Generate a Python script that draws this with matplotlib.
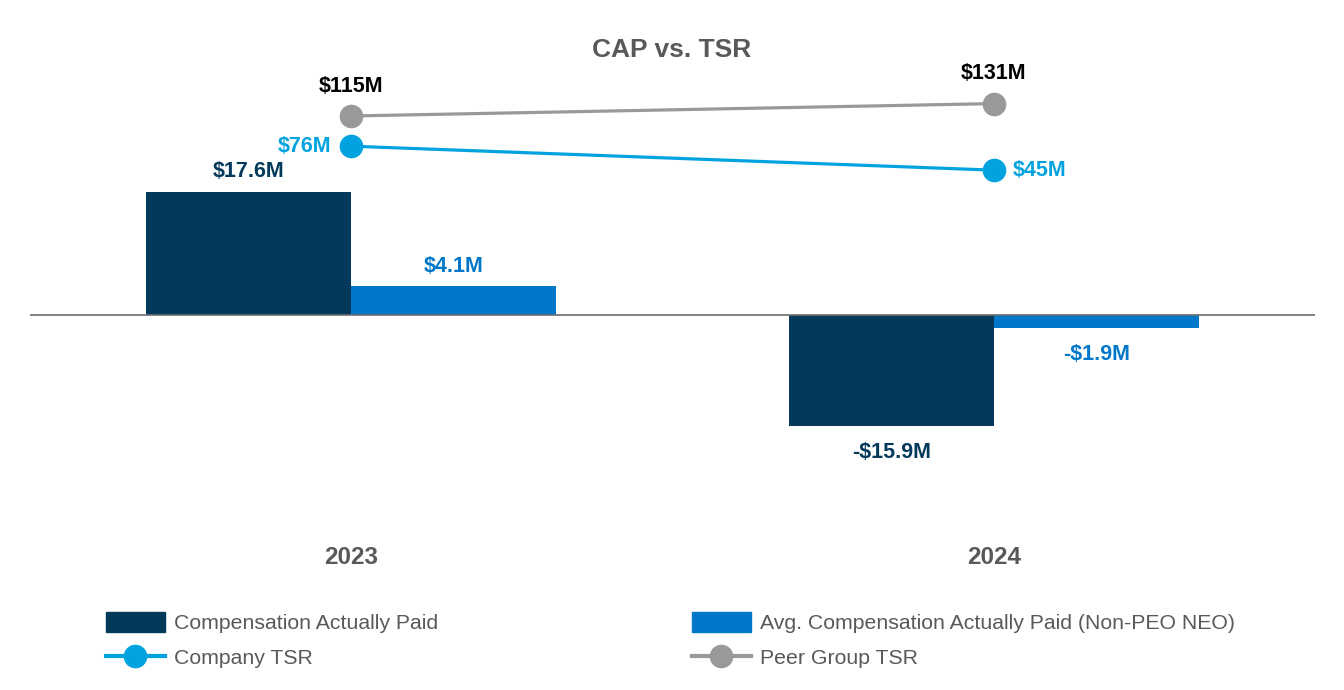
import numpy as np
import matplotlib.pyplot as plt
from matplotlib.patches import Patch
from matplotlib.lines import Line2D

plt.rcParams['font.family'] = ['Liberation Sans', 'DejaVu Sans']

years = ['2023', '2024']
cap = [17.6, -15.9]            # compensation actually paid, $M
avg_cap = [4.1, -1.9]          # avg non-PEO NEO CAP, $M
company_tsr = [76, 45]
peer_tsr = [115, 131]

navy = '#033A5C'
blue = '#0077C8'
cyan = '#00A3E0'
grey = '#999999'
txt = '#595959'

fig = plt.figure(figsize=(13.44, 6.9), dpi=100)
W, H = 1344, 690
top_px, bot_px = 40, 520
ax = fig.add_axes([30 / W, 1 - bot_px / H, (1315 - 30) / W, (bot_px - top_px) / H])
ax2 = ax.twinx()

x = np.arange(len(years))
bw = 0.319
ax.bar(x, cap, width=-bw, align='edge', color=navy, zorder=2)
ax.bar(x, avg_cap, width=bw, align='edge', color=blue, zorder=2)
ax.axhline(0, color='#6d6d6d', lw=1.2, zorder=3)

# primary: zero at y=315 px, 7 px per $M
ax.set_ylim(-(bot_px - 315) / 7, (315 - top_px) / 7)
ax.set_xlim(-0.5, 1.5)
# secondary: zero at y=205 px, 0.774 px per unit
ax2.set_ylim(-(bot_px - 205) / 0.774, (205 - top_px) / 0.774)

ax2.plot(x, peer_tsr, color=grey, lw=2.3, marker='o', ms=16, zorder=4)
ax2.plot(x, company_tsr, color=cyan, lw=2.3, marker='o', ms=16, zorder=4)

for a in (ax, ax2):
    for s in a.spines.values():
        s.set_visible(False)
    a.set_yticks([])
    a.tick_params(length=0)
ax.set_xticks([])

fs = 15.5
for i, v in enumerate(cap):
    off = 7 if v > 0 else -11
    ax.annotate(f"{'-' if v < 0 else ''}${abs(v):.1f}M", (x[i] - bw / 2, v),
                xytext=(0, off), textcoords='offset points', ha='center',
                va='bottom' if v > 0 else 'top', color=navy, fontsize=fs, fontweight='bold')
for i, v in enumerate(avg_cap):
    off = 7 if v > 0 else -11
    ax.annotate(f"{'-' if v < 0 else ''}${abs(v):.1f}M", (x[i] + bw / 2, v),
                xytext=(0, off), textcoords='offset points', ha='center',
                va='bottom' if v > 0 else 'top', color=blue, fontsize=fs, fontweight='bold')

for i, v in enumerate(peer_tsr):
    ax2.annotate(f"${v}M", (x[i], v), xytext=(0, 14), textcoords='offset points',
                 ha='center', va='bottom', color='black', fontsize=fs, fontweight='bold')
ax2.annotate(f"${company_tsr[0]}M", (x[0], company_tsr[0]), xytext=(-14, 0),
             textcoords='offset points', ha='right', va='center', color=cyan,
             fontsize=fs, fontweight='bold')
ax2.annotate(f"${company_tsr[1]}M", (x[1], company_tsr[1]), xytext=(14, 0),
             textcoords='offset points', ha='left', va='center', color=cyan,
             fontsize=fs, fontweight='bold')

fig.text(672 / W, 1 - 50 / H, 'CAP vs. TSR', ha='center', va='center',
         fontsize=19, fontweight='bold', color=txt)
for i, yr in enumerate(years):
    ax.text(x[i], 1 - (558 - top_px) / (bot_px - top_px), yr, transform=ax.get_xaxis_transform(),
            ha='center', va='center', fontsize=17.5, fontweight='bold', color=txt)

leg_kw = dict(frameon=False, fontsize=15.3, handlelength=2.77, handleheight=1.08,
              handletextpad=0.42, labelspacing=0.65, borderpad=0, borderaxespad=0,
              labelcolor=txt, loc='upper left')
h1 = [Patch(color=navy), Line2D([], [], color=cyan, lw=3, marker='o', ms=16)]
h2 = [Patch(color=blue), Line2D([], [], color=grey, lw=3, marker='o', ms=16)]
l1 = fig.legend(h1, ['Compensation Actually Paid', 'Company TSR'],
                bbox_to_anchor=(106 / W, 1 - 612 / H), **leg_kw)
l2 = fig.legend(h2, ['Avg. Compensation Actually Paid (Non-PEO NEO)', 'Peer Group TSR'],
                bbox_to_anchor=(692 / W, 1 - 612 / H), **leg_kw)

fig.savefig('out.png', dpi=100)
